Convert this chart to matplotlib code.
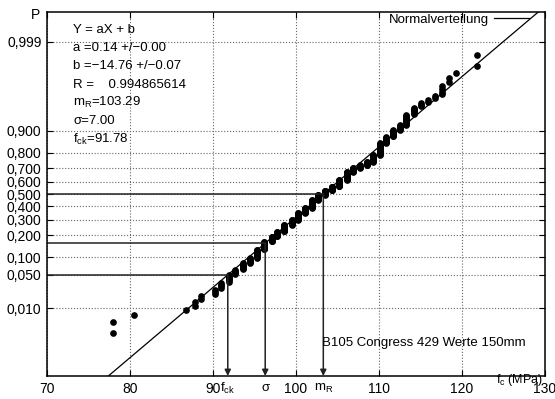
import numpy as np
import matplotlib.pyplot as plt
from statistics import NormalDist

# compressive strength values (MPa) and how many specimens sit at each value
fc_values = [77.9, 80.5, 86.8, 87.8, 88.6, 90.2, 91.0, 91.9, 92.6, 93.6, 94.5,
             95.3, 96.2, 97.1, 97.7, 98.6, 99.5, 100.3, 101.1, 101.9, 102.7,
             103.5, 104.3, 105.2, 106.1, 106.9, 107.7, 108.5, 109.3, 110.1,
             110.9, 111.7, 112.5, 113.3, 114.2, 115.1, 115.9, 116.7, 117.6,
             118.4, 119.3, 121.8]
counts = [2, 1, 1, 2, 2, 3, 4, 6, 5, 8, 7,
          14, 16, 12, 12, 19, 14, 22, 17, 27, 18,
          15, 14, 22, 26, 13, 8, 9, 19, 27,
          12, 11, 7, 12, 6, 3, 2, 2, 4,
          2, 1, 2]

m_R = 103.29
sigma = 7.00
f_ck = 91.78

prob_ticks = [0.01, 0.05, 0.1, 0.2, 0.3, 0.4, 0.5, 0.6, 0.7, 0.8, 0.9, 0.999]
prob_labels = ["0,010", "0,050", "0,100", "0,200", "0,300", "0,400", "0,500",
               "0,600", "0,700", "0,800", "0,900", "0,999"]
x_ticks = [70, 80, 90, 100, 110, 120, 130]

stats_lines = ["Y = aX + b", "a =0.14 +/\u22120.00", "b =\u221214.76 +/\u22120.07",
               "R =    0.994865614", "m$_R$=103.29", "\u03c3=7.00", "f$_{ck}$=91.78"]

plt.rcParams['font.family'] = ['Liberation Sans', 'DejaVu Sans']
plt.rcParams['mathtext.default'] = 'regular'

nd = NormalDist()
values = np.repeat(fc_values, counts)
n = len(values)
z_pts = [nd.inv_cdf(i / (n + 1)) for i in range(1, n + 1)]

fig = plt.figure(figsize=(5.55, 3.99), dpi=100)
ax = fig.add_axes([47 / 555, 1 - 376 / 399, 498 / 555, 364 / 399])

ax.plot(values, z_pts, 'o', color='black', ms=3.8, mec='black')

# fitted normal distribution
x_line = np.array([60.0, 140.0])
ax.plot(x_line, (x_line - m_R) / sigma, color='black', lw=0.9, label='Normalverteilung')

# reference lines for f_ck, m_R - sigma, m_R
zmin, zmax = -3.7, 3.7
for xv, zv in [(f_ck, nd.inv_cdf(0.05)), (m_R - sigma, -1.0), (m_R, 0.0)]:
    ax.plot([70, xv], [zv, zv], color='#222222', lw=1.1)
    ax.annotate('', xy=(xv, zmin), xytext=(xv, zv),
                arrowprops=dict(arrowstyle='-|>', color='#222222', lw=1.1,
                                mutation_scale=9, shrinkA=0, shrinkB=0))

ax.set_xlim(70, 130)
ax.set_ylim(zmin, zmax)
ax.set_xticks(x_ticks)
ax.set_yticks([nd.inv_cdf(p) for p in prob_ticks])
ax.set_yticklabels(prob_labels)
ax.tick_params(direction='in', top=True, right=True, length=4, labelsize=10, pad=4)
ax.grid(True, linestyle=':', color='0.4', lw=0.8)
for s in ax.spines.values():
    s.set_linewidth(1.1)

ax.legend(loc='upper right', bbox_to_anchor=(0.978, 1.01), frameon=False,
          markerfirst=False, fontsize=9.5, handlelength=2.6, handletextpad=0.4,
          borderaxespad=0)

for i, line in enumerate(stats_lines):
    fig.text(73 / 555, 1 - (30 + i * 18.2) / 399, line, fontsize=9.5, va='center')

fig.text(322 / 555, 1 - 343 / 399, "B105 Congress 429 Werte 150mm", fontsize=9.5, va='center')
fig.text(36 / 555, 1 - 15 / 399, "P", fontsize=10, va='center', ha='center')
fig.text(496 / 555, 1 - 380 / 399, "f$_c$ (MPa)", fontsize=9, va='center')
for xv, lab in [(f_ck, "f$_{ck}$"), (m_R - sigma, "\u03c3"), (m_R, "m$_R$")]:
    ax.text(xv, -3.95, lab, fontsize=9.5, ha='center', va='center')

fig.savefig("out.png", dpi=100)
